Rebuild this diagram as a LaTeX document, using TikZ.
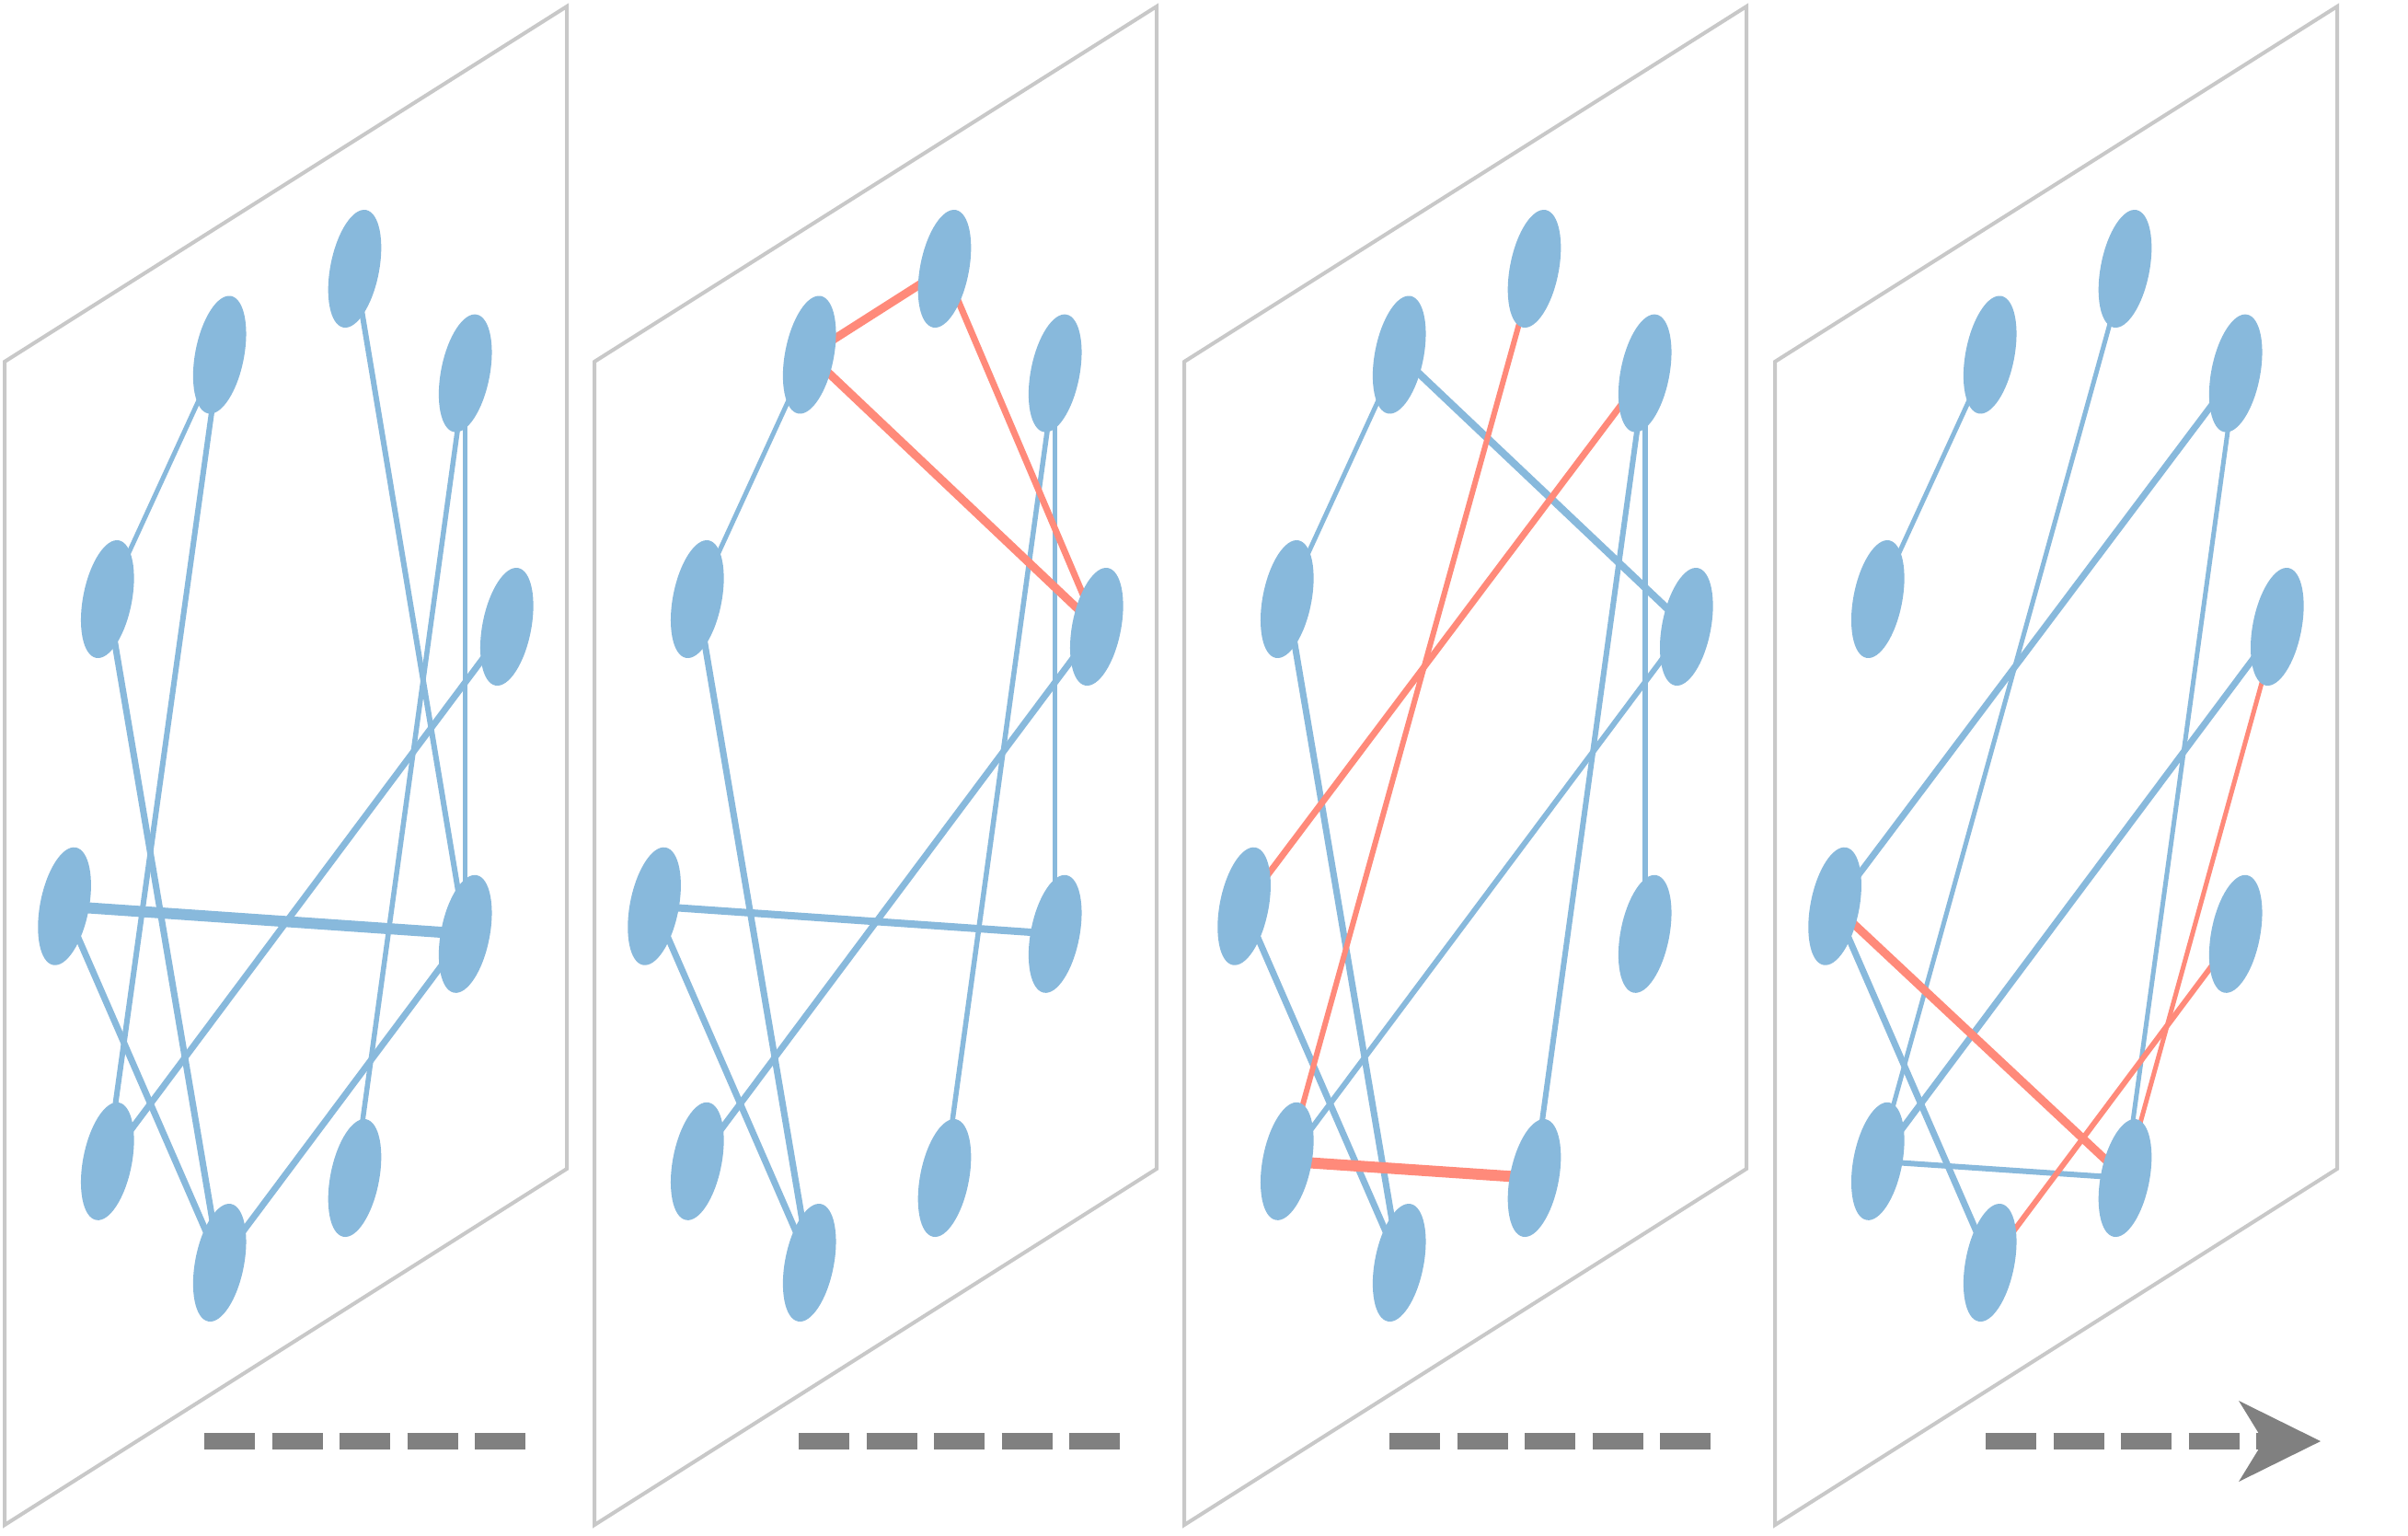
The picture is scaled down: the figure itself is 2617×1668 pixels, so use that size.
\documentclass[tikz,border=0pt]{standalone}
\usetikzlibrary{shapes.geometric,arrows.meta}
\definecolor{nodeblue}{RGB}{136,185,220}
\definecolor{edgered}{RGB}{255,138,122}
\definecolor{framegray}{RGB}{200,200,200}
\definecolor{dashgray}{RGB}{128,128,128}
\pgfdeclarelayer{bglayer}
\pgfdeclarelayer{edgelayer}
\pgfsetlayers{bglayer,edgelayer,main}
\tikzset{
  vtx/.style={ellipse, fill=nodeblue, draw=none, minimum width=53pt, minimum height=130pt, inner sep=0pt, rotate=-11},
  bedge/.style={draw=nodeblue, line width=#1},
  redge/.style={draw=edgered, line width=#1},
  panelframe/.style={draw=framegray, line width=4pt, line join=miter},
  flow/.style={draw=dashgray, line width=17.7pt, dash pattern=on 55pt off 18.5pt},
}
\begin{document}
\begin{tikzpicture}[x=1pt,y=-1pt]
\useasboundingbox (0,0) rectangle (2617,1668);
\begin{pgfonlayer}{bglayer}
\fill[white] (0,0) rectangle (2617,1668);
\end{pgfonlayer}
\foreach \p/\dx in {1/0,2/641,3/1282,4/1924}{
  \draw[panelframe] (5+\dx,393) -- (616+\dx,7) -- (616+\dx,1270) -- (5+\dx,1657) -- cycle;
  \node[vtx] (A\p) at (385.5+\dx,292) {};
  \node[vtx] (B\p) at (238.7+\dx,385.5) {};
  \node[vtx] (C\p) at (505.7+\dx,405.6) {};
  \node[vtx] (D\p) at (116.8+\dx,651) {};
  \node[vtx] (E\p) at (550.8+\dx,681) {};
  \node[vtx] (F\p) at (70.1+\dx,984.7) {};
  \node[vtx] (G\p) at (505.7+\dx,1014.8) {};
  \node[vtx] (H\p) at (116.8+\dx,1261.8) {};
  \node[vtx] (I\p) at (385.5+\dx,1280) {};
  \node[vtx] (J\p) at (238.7+\dx,1372) {};
}
\begin{pgfonlayer}{edgelayer}
% panel 1
\draw[bedge=5pt] (B1.center) -- (D1.center);
\draw[bedge=6pt] (B1.center) -- (H1.center);
\draw[bedge=6pt] (A1.center) -- (G1.center);
\draw[bedge=5pt] (C1.center) -- (G1.center);
\draw[bedge=5.5pt] (C1.center) -- (I1.center);
\draw[bedge=7pt] (E1.center) -- (H1.center);
\draw[bedge=12pt] (F1.center) -- (G1.center);
\draw[bedge=7pt] (F1.center) -- (J1.center);
\draw[bedge=7pt] (D1.center) -- (J1.center);
\draw[bedge=7pt] (G1.center) -- (J1.center);
% panel 2
\draw[bedge=5pt] (B2.center) -- (D2.center);
\draw[bedge=7pt] (D2.center) -- (J2.center);
\draw[bedge=5pt] (C2.center) -- (G2.center);
\draw[bedge=5.5pt] (C2.center) -- (I2.center);
\draw[bedge=7pt] (E2.center) -- (H2.center);
\draw[bedge=8pt] (F2.center) -- (G2.center);
\draw[bedge=7pt] (F2.center) -- (J2.center);
\draw[redge=9pt] (A2.center) -- (B2.center);
\draw[redge=9pt] (B2.center) -- (E2.center);
\draw[redge=7pt] (A2.center) -- (E2.center);
% panel 3
\draw[bedge=5pt] (B3.center) -- (D3.center);
\draw[bedge=8pt] (B3.center) -- (E3.center);
\draw[bedge=6pt] (C3.center) -- (G3.center);
\draw[bedge=6pt] (C3.center) -- (I3.center);
\draw[bedge=6pt] (E3.center) -- (H3.center);
\draw[bedge=7pt] (D3.center) -- (J3.center);
\draw[bedge=7pt] (F3.center) -- (J3.center);
\draw[redge=6pt] (A3.center) -- (H3.center);
\draw[redge=7pt] (C3.center) -- (F3.center);
\draw[redge=12pt] (H3.center) -- (I3.center);
% panel 4
\draw[bedge=5pt] (B4.center) -- (D4.center);
\draw[bedge=5pt] (A4.center) -- (H4.center);
\draw[bedge=7pt] (C4.center) -- (F4.center);
\draw[bedge=5pt] (C4.center) -- (I4.center);
\draw[bedge=7pt] (E4.center) -- (H4.center);
\draw[bedge=7pt] (F4.center) -- (J4.center);
\draw[bedge=6pt] (H4.center) -- (I4.center);
\draw[redge=5pt] (E4.center) -- (I4.center);
\draw[redge=9pt] (F4.center) -- (I4.center);
\draw[redge=6pt] (G4.center) -- (J4.center);
\end{pgfonlayer}
% progress dashes
\coordinate (S1) at (222,1566);  \coordinate (T1) at (571,1566);
\coordinate (S2) at (868,1566);  \coordinate (T2) at (1217,1566);
\coordinate (S3) at (1510,1566); \coordinate (T3) at (1859,1566);
\coordinate (S4) at (2158,1566); \coordinate (T4) at (2522,1566);
\draw[flow] (S1) -- (T1);
\draw[flow] (S2) -- (T2);
\draw[flow] (S3) -- (T3);
\draw[flow, -{Stealth[length=89pt, width=88pt, inset=27pt, line width=0pt]}] (S4) -- (T4);
\end{tikzpicture}
\end{document}
